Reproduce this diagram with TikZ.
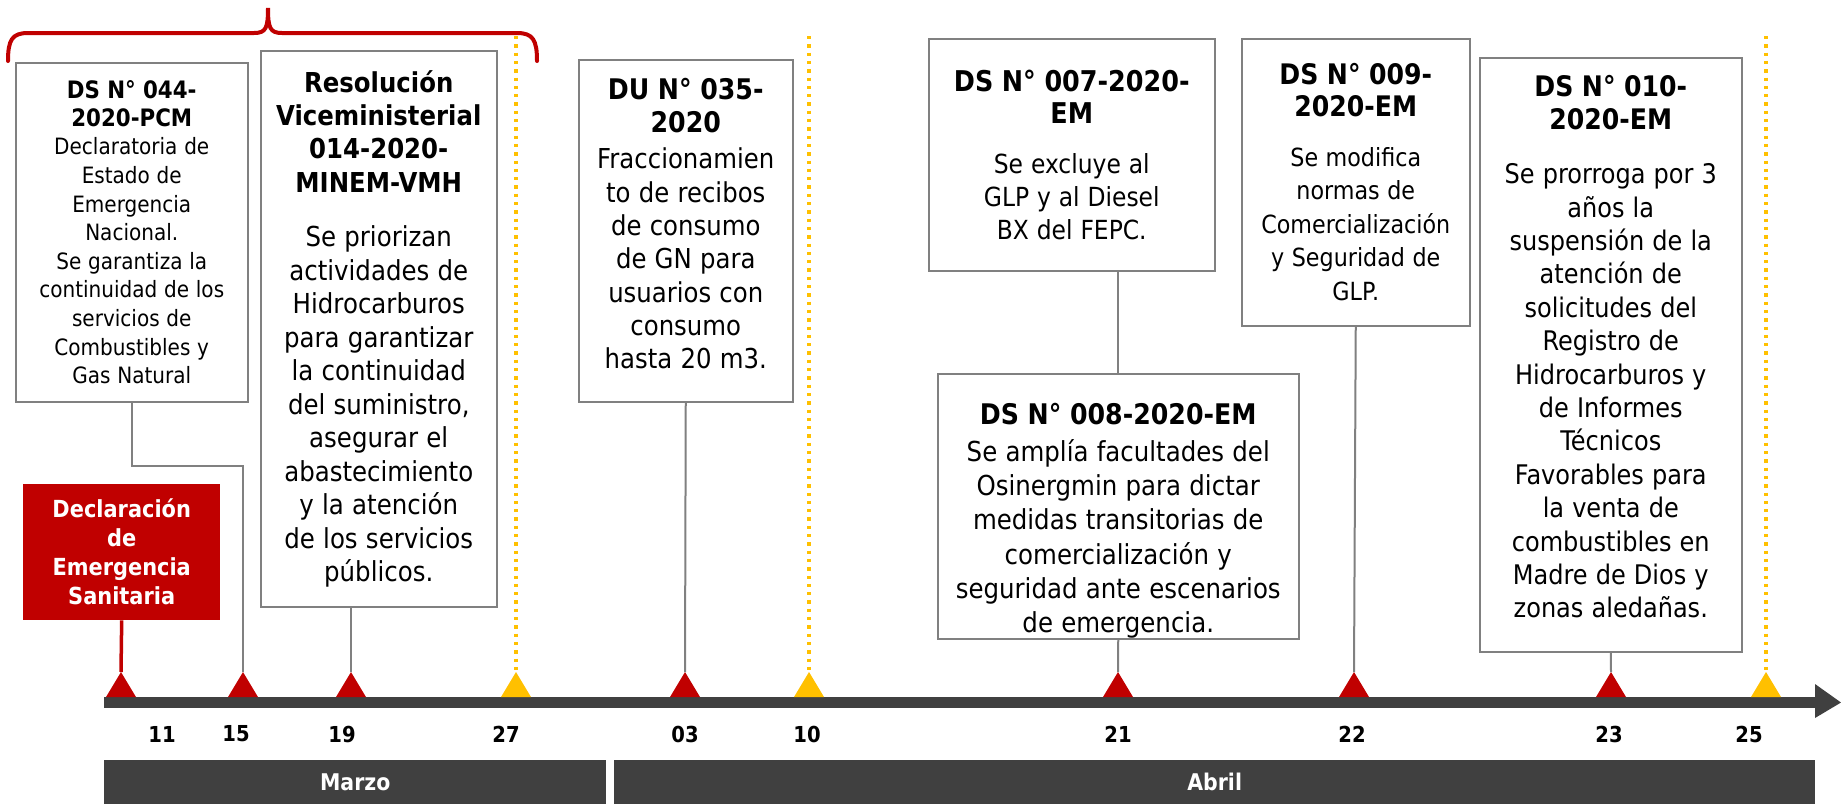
\documentclass[tikz,border=0pt]{standalone}
\usepackage{fontspec}
\setmainfont{DejaVu Sans}[FakeStretch=0.89]

\definecolor{rojo}{HTML}{C00000}
\definecolor{oro}{HTML}{FFC000}
\definecolor{oscuro}{HTML}{404040}
\definecolor{borde}{HTML}{808080}

\tikzset{
  caja/.style={draw=borde,line width=1.5pt,fill=white,anchor=north west,
    inner xsep=2pt,inner ysep=0pt,align=center},
  alerta/.style={fill=rojo,text=white,anchor=north west,inner sep=0pt,align=center,
    font=\bfseries\fontsize{23.5}{29}\selectfont},
  enlace/.style={draw=borde,line width=2pt},
  guia/.style={draw=oro,line width=3.5pt,dash pattern=on 3.3pt off 5pt},
  llave/.style={draw=rojo,line width=4pt,line cap=round},
  dia/.style={font=\bfseries\fontsize{22}{26}\selectfont},
  mes/.style={fill=oscuro,text=white,anchor=north west,inner sep=0pt,
    font=\bfseries\fontsize{23}{27}\selectfont},
}
\newcommand{\espacio}{\spaceskip=.3em\relax\xspaceskip=.3em\relax}
\newcommand{\titulo}[3]{{\bfseries\fontsize{#1}{#2}\selectfont\espacio #3\par}}
\newcommand{\cuerpo}[4][0pt]{\vspace*{#1}{\fontsize{#2}{#3}\selectfont\espacio #4\par}}
\newcommand{\hueco}[1]{\par\nointerlineskip\vbox to #1{}}

\begin{document}
\begin{tikzpicture}[x=1pt,y=-1pt]
  \pgfmathsetmacro{\yEje}{697}
  \pgfmathsetmacro{\yPico}{672}
  \useasboundingbox (0,0) rectangle (1841,804);

  % eje de tiempo
  \fill[oscuro] (104,\yEje) rectangle (1815,708);
  \fill[oscuro] (1815,684) -- (1841,702.5) -- (1815,718) -- cycle;
  \foreach \x/\c/\n in {121/rojo/11, 243/rojo/15, 351/rojo/19, 516/oro/27,
      685/rojo/03, 809/oro/10, 1118/rojo/21, 1354/rojo/22, 1611/rojo/23, 1766/oro/25}{
    \coordinate (m\n) at (\x,\yPico);
    \coordinate (g\n) at (\x,36);
    \fill[\c] (\x-15,\yEje) -- (m\n) -- (\x+15,\yEje) -- cycle;
  }
  \foreach \x/\d in {162/11, 236/15, 342/19, 506/27, 685/03, 807/10, 1118/21, 1352/22, 1609/23, 1749/25}
    \node[dia] (d\d) at (\x,734) {\d};

  \node[mes,minimum width=502pt,minimum height=44pt] (marzo) at (104,760) {Marzo};
  \node[mes,minimum width=1201pt,minimum height=44pt] (abril) at (614,760) {Abril};

  \draw[guia] (g27) -- (m27);
  \draw[guia] (g10) -- (m10);
  \draw[guia] (g25) -- (m25);

  \draw[llave] (8,61) .. controls (8,40) and (12,33) .. (28,33) -- (254,33)
    .. controls (266,33) and (268,28) .. (268,8)
    .. controls (268,28) and (270,33) .. (282,33) -- (517,33)
    .. controls (533,33) and (537,40) .. (537,61);

  \node[alerta,minimum width=197pt,minimum height=136pt] (decl) at (23,484)
    {Declaración\\de\\Emergencia\\Sanitaria};

  \node[caja,text width=226pt,minimum width=232pt,minimum height=339pt] (box044) at (15,62) {%
    \titulo{24}{28}{DS N° 044-\\2020-PCM}%
    \cuerpo{22.5}{28.6}{Declaratoria de\\Estado de\\Emergencia\\Nacional.\\Se garantiza la\\continuidad de los\\servicios de\\Combustibles y\\Gas Natural}};

  \node[caja,text width=230pt,minimum width=236pt,minimum height=556pt] (boxres) at (260,50) {%
    \titulo{27.4}{33.3}{Resolución\\Viceministerial\\014-2020-\\MINEM-VMH}%
    \cuerpo[21pt]{27.5}{33.5}{Se priorizan\\actividades de\\Hidrocarburos\\para garantizar\\la continuidad\\del suministro,\\asegurar el\\abastecimiento\\y la atención\\de los servicios\\públicos.}};

  \node[caja,text width=208pt,minimum width=214pt,minimum height=342pt] (boxdu) at (578,59) {%
    \titulo{28.4}{33}{DU N° 035-\\2020}%
    \cuerpo[3pt]{27.4}{33.3}{Fraccionamien\\to de recibos\\de consumo\\de GN para\\usuarios con\\consumo\\hasta 20 m3.}\hueco{14pt}};

  \node[caja,text width=280pt,minimum width=286pt,minimum height=232pt] (box007) at (928,38) {%
    \titulo{28.6}{32}{DS N° 007-2020-\\EM}%
    \cuerpo[17pt]{26.3}{33}{Se excluye al\\GLP y al Diesel\\BX del FEPC.}};

  \node[caja,text width=355pt,minimum width=361pt,minimum height=265pt] (box008) at (937,373) {%
    \par\vspace*{16pt}%
    \titulo{28.4}{34}{DS N° 008-2020-EM}%
    \cuerpo[3pt]{27.5}{34.2}{Se amplía facultades del\\Osinergmin para dictar\\medidas transitorias de\\comercialización y\\seguridad ante escenarios\\de emergencia.}};

  \node[caja,text width=222pt,minimum width=228pt,minimum height=287pt] (box009) at (1241,38) {%
    \titulo{28.3}{32}{DS N° 009-\\2020-EM}%
    \cuerpo[16pt]{25}{33.5}{Se modifica\\normas de\\Comercialización\\y Seguridad de\\GLP.}};

  \node[caja,text width=256pt,minimum width=262pt,minimum height=594pt] (box010) at (1479,57) {%
    \titulo{28.3}{33}{DS N° 010-\\2020-EM}%
    \cuerpo[21pt]{27}{33.4}{Se prorroga por 3\\años la\\suspensión de la\\atención de\\solicitudes del\\Registro de\\Hidrocarburos y\\de Informes\\Técnicos\\Favorables para\\la venta de\\combustibles en\\Madre de Dios y\\zonas aledañas.}\hueco{16pt}};

  % conectores
  \draw[rojo,line width=3.5pt] (decl.south) -- (m11);
  \draw[enlace] (box044.south) -- ++(0,63) -| (m15);
  \draw[enlace] (boxres.south -| m19) -- (m19);
  \draw[enlace] (boxdu.south) -- (m03);
  \draw[enlace] (box007.south -| box008.north) -- (box008.north);
  \draw[enlace] (box008.south) -- (m21);
  \draw[enlace] (box009.south) -- (m22);
  \draw[enlace] (box010.south) -- (m23);
\end{tikzpicture}
\end{document}
